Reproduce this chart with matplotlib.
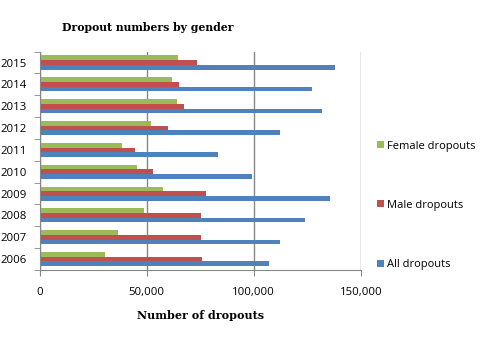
import matplotlib.pyplot as plt
import numpy as np

years = ['2006', '2007', '2008', '2009', '2010', '2011', '2012', '2013', '2014', '2015']
all_dropouts = [106900, 112100, 123700, 135400, 99000, 83200, 112100, 131600, 127000, 137700]
male_dropouts = [75700, 75200, 75200, 77600, 52900, 44500, 59900, 67300, 65000, 73400]
female_dropouts = [30500, 36600, 48700, 57500, 45400, 38400, 52000, 64100, 61600, 64500]

blue, red, green = '#4F81BD', '#C0504D', '#9BBB59'
font = 'Open Sans'

fig = plt.figure(figsize=(4.8, 3.51), dpi=100)
ax = fig.add_axes([0.0823, 0.2308, 0.752 - 0.0823, 0.853 - 0.2308])

y = np.arange(len(years))
h = 0.215
b1 = ax.barh(y - h, all_dropouts, h, color=blue, label='All dropouts')
b2 = ax.barh(y, male_dropouts, h, color=red, label='Male dropouts')
b3 = ax.barh(y + h, female_dropouts, h, color=green, label='Female dropouts')

ax.set_xlim(0, 150000)
ax.set_ylim(-0.5, len(years) - 0.5)
ax.set_xticks([0, 50000, 100000, 150000])
ax.set_xticklabels(['0', '50,000', '100,000', '150,000'], fontname=font, fontsize=8.2)
ax.set_yticks(y)
ax.set_yticklabels(years, fontname=font, fontsize=8.2)
ax.tick_params(axis='y', length=0, pad=9)
ax.set_yticks(np.arange(-0.5, len(years)), minor=True)
ax.tick_params(axis='y', which='minor', length=4, color='#868686', direction='out')
ax.tick_params(axis='x', length=4, color='#868686', direction='out', pad=8)

ax.grid(axis='x', color='#868686', linewidth=1)
ax.set_axisbelow(True)
for s in ['top', 'right']:
    ax.spines[s].set_visible(False)
for s in ['left', 'bottom']:
    ax.spines[s].set_color('#868686')

ax.set_xlabel('Number of dropouts', fontname='DejaVu Serif', fontweight='bold',
              fontsize=8, labelpad=9)
fig.text(0.307, 0.921, 'Dropout numbers by gender', fontname='DejaVu Serif',
         fontweight='bold', fontsize=7.8, ha='center', va='center')

fig.legend([b3, b2, b1], ['Female dropouts', 'Male dropouts', 'All dropouts'],
           loc='center left', bbox_to_anchor=(0.765, 0.415), frameon=False,
           prop={'family': font, 'size': 8}, labelspacing=4.35,
           handlelength=0.6, handleheight=0.6, handletextpad=0.3)

fig.savefig('out.png', dpi=100)
